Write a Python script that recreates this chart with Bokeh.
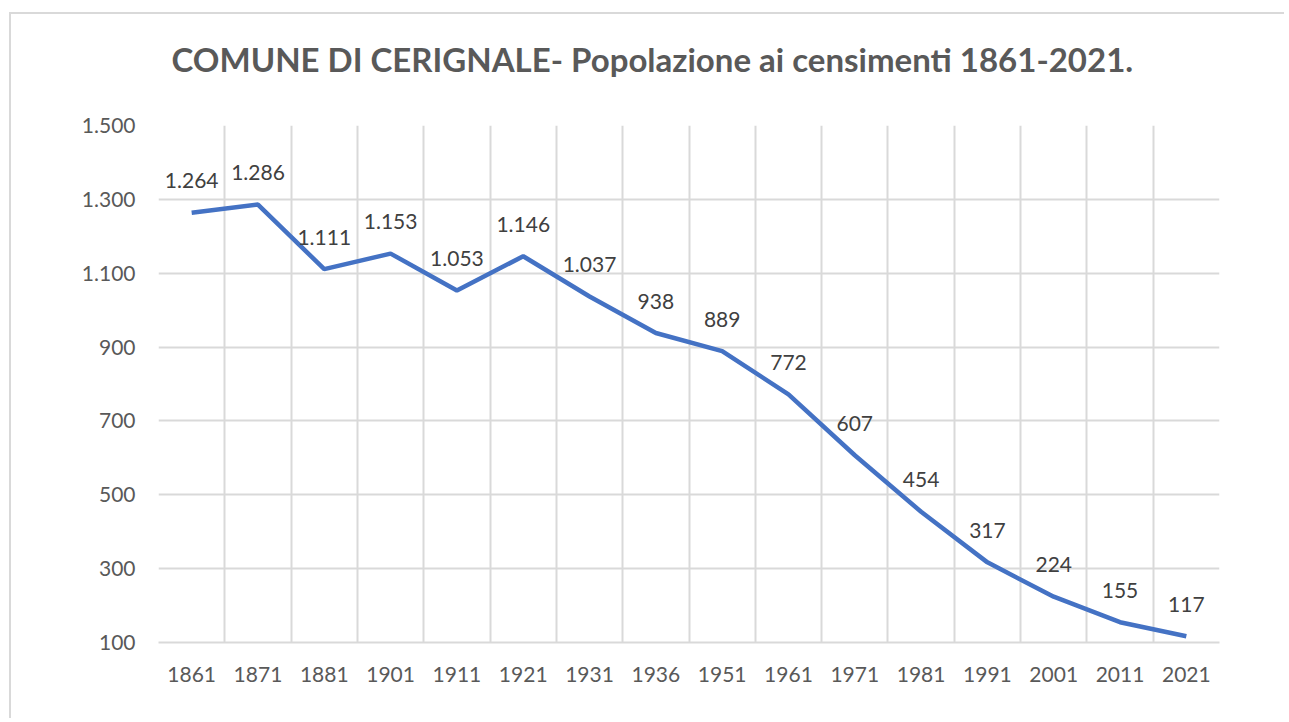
from bokeh.plotting import figure
from bokeh.models import FixedTicker, ColumnDataSource, Range1d, Title
from bokeh.embed import file_html
from bokeh.resources import INLINE
from bokeh.core.properties import value

years = ["1861", "1871", "1881", "1901", "1911", "1921", "1931", "1936",
         "1951", "1961", "1971", "1981", "1991", "2001", "2011", "2021"]
population = [1264, 1286, 1111, 1153, 1053, 1146, 1037, 938,
              889, 772, 607, 454, 317, 224, 155, 117]
y_ticks = [100, 300, 500, 700, 900, 1100, 1300, 1500]
title_text = "COMUNE DI CERIGNALE- Popolazione ai censimenti 1861-2021."


def it_fmt(v):
    return f"{v:,}".replace(",", ".")


FONT = "Lato"
GRID = "#d9d9d9"
TXT = "#595959"

idx = list(range(len(years)))
src = ColumnDataSource(dict(x=idx, y=population, lab=[it_fmt(v) for v in population]))

p = figure(width=1275, height=706, output_backend="svg", toolbar_location=None,
           x_range=Range1d(-0.5, len(years) - 0.5), y_range=Range1d(100, 1500),
           min_border_left=147, min_border_right=67, min_border_top=111, min_border_bottom=78)
p.title = None
p.styles = {"margin-left": "9px", "margin-top": "12px",
            "border-left": "2px solid #d9d9d9", "border-top": "2px solid #d9d9d9"}
p.outline_line_color = None
p.background_fill_color = "white"
p.border_fill_color = "white"

spacer = Title(text=" ", text_font=FONT, text_font_size="25px")
p.add_layout(spacer, "above")
main_title = Title(text=title_text, text_font=FONT, text_font_style="bold",
                   text_font_size="33px", text_color=TXT, align="left", offset=13)
p.add_layout(main_title, "above")

p.xaxis.ticker = FixedTicker(ticks=idx)
p.xaxis.major_label_overrides = {i: y for i, y in zip(idx, years)}
p.xgrid.ticker = FixedTicker(ticks=[i - 0.5 for i in range(len(years) + 1)])
p.yaxis.ticker = FixedTicker(ticks=y_ticks)
p.yaxis.major_label_overrides = {t: it_fmt(t) for t in y_ticks}

for ax in (p.xaxis[0], p.yaxis[0]):
    ax.major_tick_line_color = None
    ax.minor_tick_line_color = None
    ax.major_label_text_font = FONT
    ax.major_label_text_font_size = "21px"
    ax.major_label_text_color = TXT
p.yaxis.axis_line_color = None
p.xaxis.axis_line_color = GRID
p.xaxis.axis_line_width = 2
p.yaxis.major_label_standoff = 17
p.xaxis.major_label_standoff = 18

for g in (p.xgrid[0], p.ygrid[0]):
    g.grid_line_color = GRID
    g.grid_line_width = 2

p.line("x", "y", source=src, line_color="#4472C4", line_width=4.5)
p.text("x", "y", text="lab", source=src, text_align="center", text_baseline="alphabetic",
       y_offset=-32, text_font=value(FONT), text_font_size="21px", text_color="#404040")

open("out.html", "w").write(file_html(p, INLINE))
